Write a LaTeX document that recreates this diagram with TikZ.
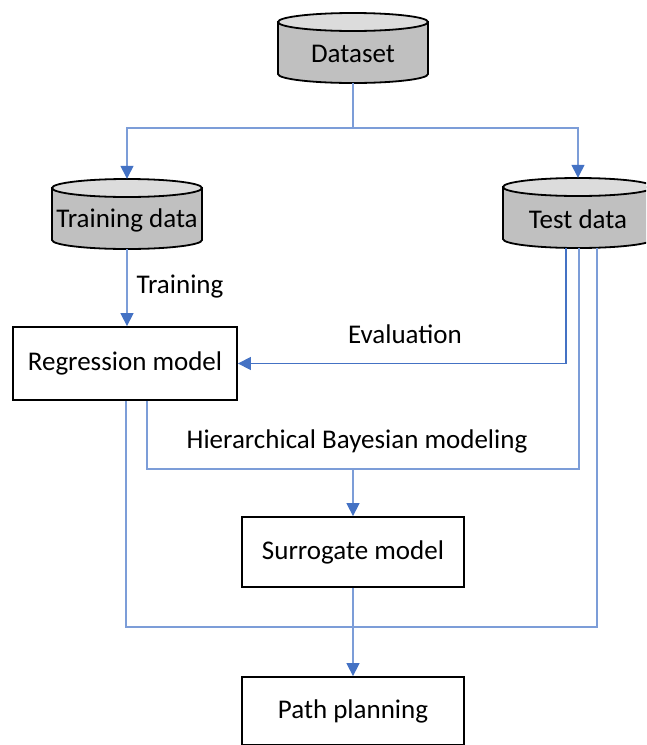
\documentclass[tikz,border=0pt]{standalone}
\usepackage{fontspec}
\setmainfont{Carlito}
\usetikzlibrary{arrows.meta}
\definecolor{lineblue}{HTML}{4472C4}
\definecolor{lightblue}{HTML}{7C9DD8}
\definecolor{cylbody}{HTML}{C0C0C0}
\definecolor{cyltop}{HTML}{DCDCDC}
\tikzset{
  txt/.style={font=\fontsize{27}{31}\selectfont, text=black},
  boxnode/.style={draw=black, line width=1.8pt, fill=white, txt, inner sep=0pt},
  cylnode/.style={minimum width=150pt, minimum height=70pt, inner sep=0pt},
  cylline/.style={draw=black, line width=1.8pt},
  conn/.style={draw=lightblue, line width=1.3pt},
  conndark/.style={draw=lineblue, line width=1.3pt},
  arr/.style={-{Triangle[width=13pt,length=13pt,color=lineblue,fill=lineblue]}},
}
\newcommand\dbcyl[4]{% name, cx, cy, text
  \begin{scope}[shift={(#2,#3)}]
    \filldraw[cylline, fill=cylbody] (-75pt,26pt) -- (-75pt,-26pt)
      arc[start angle=180, end angle=360, x radius=75pt, y radius=9pt]
      -- (75pt,26pt) -- cycle;
    \filldraw[cylline, fill=cyltop] (0pt,26pt) ellipse[x radius=75pt, y radius=9pt];
    \node[txt] at (0pt,-6pt) {#4};
  \end{scope}
  \node[cylnode] (#1) at (#2,#3) {};
}
\begin{document}
\begin{tikzpicture}[x=1pt, y=-1pt]
  \useasboundingbox (0,0) rectangle (646,745);
  \begin{scope}
  \clip (0,0) rectangle (646,745);
  % cylinders
  \dbcyl{ds}{353}{48}{Dataset}
  \dbcyl{tr}{127}{214}{Training data}
  \dbcyl{ts}{578}{213}{Test data}

  % boxes
  \node[boxnode, minimum width=224pt, minimum height=73pt] (reg) at (125,363.5) {Regression model};
  \node[boxnode, minimum width=222pt, minimum height=70pt] (sur) at (353,552) {Surrogate model};
  \node[boxnode, minimum width=222pt, minimum height=68pt] (pth) at (353,711) {Path planning};

  % labels
  \node[txt] (lbtrain) at (180,287) {Training};
  \node[txt] (lbeval) at (405,334) {Evaluation};
  \node[txt] (lbhbm) at (357,441) {Hierarchical Bayesian modeling};

  % dataset split
  \coordinate (split) at (353,128);
  \draw[conn] (ds.south) -- (split);
  \draw[conn, arr] (split) -| (tr.north);
  \draw[conn, arr] (split) -| (ts.north);

  % training
  \draw[conn, arr] (tr.south) -- (tr.south |- reg.north);

  % evaluation
  \draw[conndark, arr] ([xshift=-12pt]ts.south) |- (reg.east);

  % hierarchical bayesian modeling
  \coordinate (hb) at (353,469);
  \draw[conn] ([xshift=22pt]reg.south) |- (hb) -| ([xshift=1pt]ts.south);
  \draw[conn, arr] (hb) -- (sur.north);

  % to path planning
  \coordinate (pp) at (353,627);
  \draw[conn] ([xshift=1pt]reg.south) |- (pp) -| ([xshift=19pt]ts.south);
  \draw[conn, arr] (sur.south) -- (pth.north);
  \end{scope}
\end{tikzpicture}
\end{document}
